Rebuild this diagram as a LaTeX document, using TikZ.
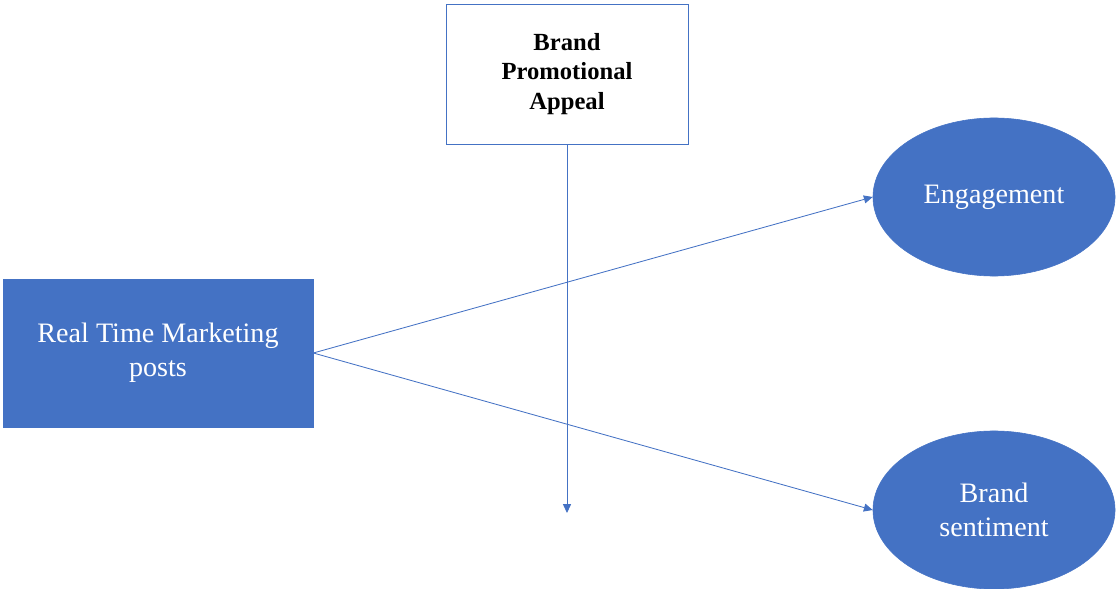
\documentclass[tikz,border=0pt]{standalone}
\usepackage{fontspec}
\setmainfont{Liberation Serif}
\usetikzlibrary{shapes}
\usetikzlibrary{arrows.meta}
\definecolor{wdblue}{HTML}{4472C4}
\tikzset{
    blueboxnode/.style = {rectangle, draw=wdblue, fill=wdblue, align=center, minimum width=7.75cm, minimum height=3.7cm, font=\fontsize{20}{24.5}\selectfont, text=white},
    whiteboxnode/.style = {rectangle, draw=wdblue, line width=0.6pt, fill=white, align=center, minimum width=6.05cm, minimum height=3.5cm, font=\fontsize{17.5}{21}\selectfont\bfseries, text=black},
    ovalnode/.style = {ellipse, draw=wdblue, fill=wdblue, align=center, inner sep=0pt, minimum width=6.05cm, minimum height=3.95cm, font=\fontsize{20}{24.5}\selectfont, text=white},
    edgeb/.style = {-{Triangle[length=0.22cm,width=0.2cm]}, line width=0.6pt, wdblue}
}

\begin{document}
\begin{tikzpicture}[x=0.025cm,y=-0.025cm]
\useasboundingbox (0,0) rectangle (1117,589);
\node[blueboxnode] at (158.0, 353.0) (rtm) {Real Time Marketing\\posts};
\node[whiteboxnode] at (567.0, 74.0) (bpa) {Brand\\Promotional\\Appeal};
\node[ovalnode] at (994.0, 197.0) (eng) {Engagement};
\node[ovalnode] at (994.0, 510.0) (sent) {Brand\\sentiment};
\coordinate (mod) at (567.0, 513.0);
\draw[edgeb] (rtm.east) -- (eng.west);
\draw[edgeb] (rtm.east) -- (sent.west);
\draw[edgeb] (bpa.south) -- (mod);
\end{tikzpicture}
\end{document}
